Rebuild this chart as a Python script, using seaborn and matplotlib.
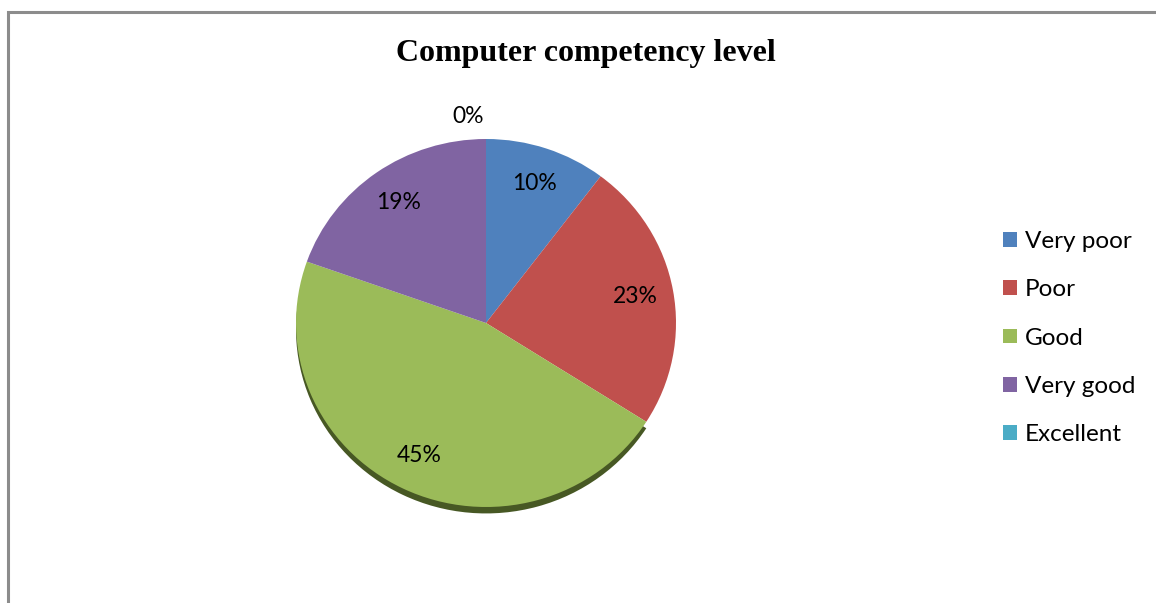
import matplotlib
matplotlib.use("Agg")
import matplotlib.pyplot as plt
import seaborn as sns
from matplotlib.patches import Rectangle, Patch
import colorsys
import matplotlib.colors as mcolors

# Survey shares of computer competency (percent)
categories = ["Very poor", "Poor", "Good", "Very good", "Excellent"]
shares = [10, 23, 45, 19, 0]
colors = ["#4F81BD", "#C0504D", "#9BBB59", "#8064A2", "#4BACC6"]
title = "Computer competency level"

sns.set_theme(style="white")
plt.rcParams["font.family"] = ["Lato", "DejaVu Sans"]
plt.rcParams["text.color"] = "black"

W, H = 1156, 603
fig = plt.figure(figsize=(W / 100, H / 100), dpi=100)
fig.patch.set_facecolor("white")

# Chart-area frame (left and top edges visible)
fig.add_artist(Rectangle((7.5 / W, -0.2), 2.0, 1.2 - 11.5 / H,
                         transform=fig.transFigure, fill=False,
                         edgecolor="#8C8C8C", linewidth=2.2))

# Pie axes: ellipse spans x 296..676 px, y 139..507 px
cx0, cx1 = 296, 676
cy_top, cy_bot = 139, 507
ry_px = (cy_bot - cy_top) / 2
ax = fig.add_axes([cx0 / W, (H - cy_bot - 0.1 * ry_px) / H,
                   (cx1 - cx0) / W, 2.1 * ry_px / H])


def darker(c, f=0.45):
    r, g, b = mcolors.to_rgb(c)
    h, l, s = colorsys.rgb_to_hls(r, g, b)
    return colorsys.hls_to_rgb(h, l * f, s)


# Bottom edge shadow of the disc, visible under the largest slice only
big = shares.index(max(shares))
shadow_cols = [darker(c) if i == big else (1, 1, 1, 0)
               for i, c in enumerate(colors)]
ax.pie(shares, colors=shadow_cols, startangle=90,
       counterclock=False, center=(0, -0.035), radius=1.0,
       wedgeprops=dict(linewidth=0))

wedges, _, autotexts = ax.pie(
    shares, colors=colors, startangle=90, counterclock=False,
    autopct=lambda p: f"{p * sum(shares) / 100:.0f}%", pctdistance=0.8,
    radius=1.0, wedgeprops=dict(linewidth=0),
    textprops=dict(fontsize=16.5, color="black"))

# The zero share sits outside, just above the top of the disc
for t, v in zip(autotexts, shares):
    if v == 0:
        t.set_position((-0.095, 1.12))

ax.set_aspect("auto")
ax.set_xlim(-1, 1)
ax.set_ylim(-1.1, 1.0)
ax.axis("off")

fig.text(586 / W, 1 - 54 / H, title, ha="center", va="center",
         fontsize=23, fontweight="bold", family="Liberation Serif",
         color="black")

handles = [Patch(facecolor=c, edgecolor="none") for c in colors]
fig.legend(handles, categories, loc="upper left",
           bbox_to_anchor=(991 / W, 1 - 219 / H), frameon=False,
           fontsize=17.5, handlelength=0.55, handleheight=0.55,
           handletextpad=0.35, labelspacing=1.12, borderpad=0)

fig.savefig("out.png", dpi=100, facecolor="white")
